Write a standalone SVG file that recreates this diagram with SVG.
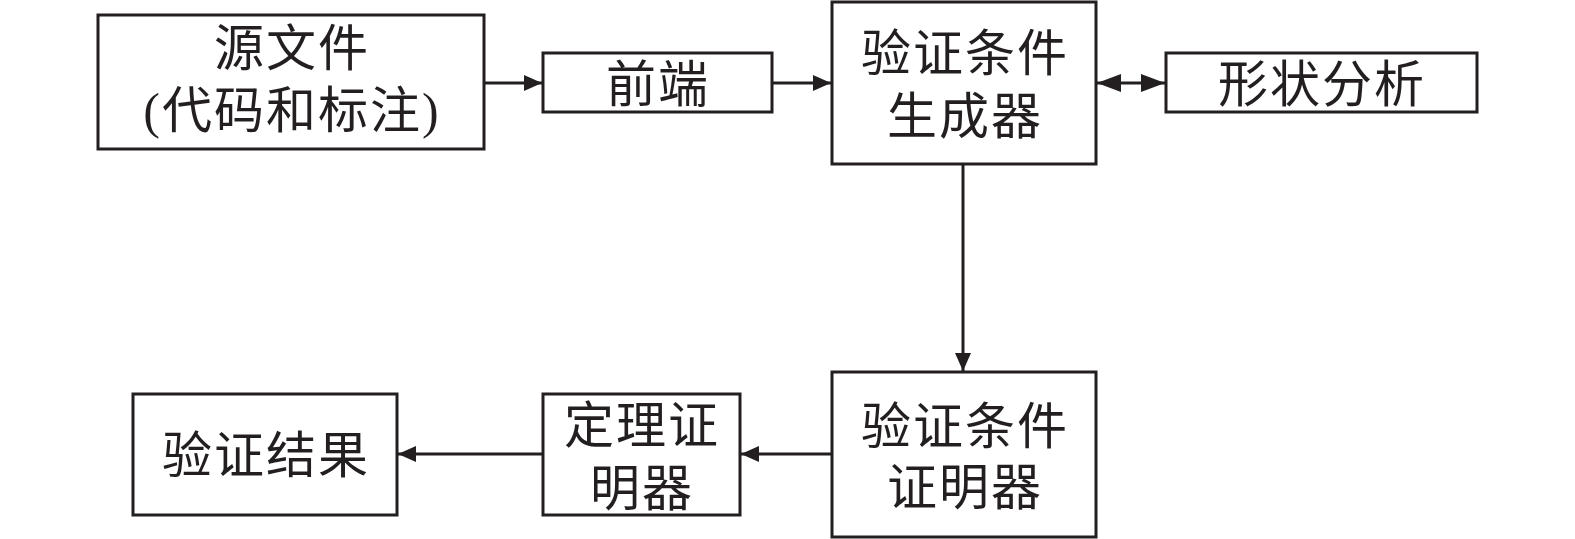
<svg xmlns="http://www.w3.org/2000/svg" width="1575" height="539" viewBox="0 0 1575 539">
<style>
.box{fill:#fff;stroke:#231f20;stroke-width:3}
.t{font-family:"Liberation Serif","Noto Sans CJK SC",serif;font-size:50px;fill:#231f20;text-anchor:middle;letter-spacing:2px}
.c{fill:none;stroke:#231f20;stroke-width:3}
</style>
<defs>
<marker id="a" markerUnits="userSpaceOnUse" markerWidth="18" markerHeight="16" refX="18" refY="8" orient="auto"><path d="M0,0 L18,8 L0,16 z" fill="#231f20"/></marker>
<marker id="b" markerUnits="userSpaceOnUse" markerWidth="24" markerHeight="18" refX="24" refY="9" orient="auto-start-reverse"><path d="M0,0 L24,9 L0,18 z" fill="#231f20"/></marker>
</defs>
<g id="connectors">
<line class="c" x1="485" y1="83" x2="542" y2="83" marker-end="url(#a)"/>
<line class="c" x1="772" y1="83" x2="831" y2="83" marker-end="url(#a)"/>
<line class="c" x1="1097" y1="83" x2="1165" y2="83" marker-start="url(#b)" marker-end="url(#b)"/>
<line class="c" x1="963" y1="164" x2="963" y2="371" marker-end="url(#a)"/>
<line class="c" x1="832" y1="454" x2="741" y2="454" marker-end="url(#a)"/>
<line class="c" x1="543" y1="454" x2="398" y2="454" marker-end="url(#a)"/>
</g>
<g id="source">
<rect class="box" x="98" y="15" width="386" height="134"/>
<text class="t" x="292" y="65.5">源文件</text>
<text class="t" x="292" y="128">(代码和标注)</text>
</g>
<g id="frontend">
<rect class="box" x="543" y="53" width="229" height="59"/>
<text class="t" x="658" y="102">前端</text>
</g>
<g id="vcgen">
<rect class="box" x="832" y="2" width="264" height="162"/>
<text class="t" x="965" y="71">验证条件</text>
<text class="t" x="965" y="134">生成器</text>
</g>
<g id="shape">
<rect class="box" x="1166" y="53" width="311" height="59"/>
<text class="t" x="1322" y="102">形状分析</text>
</g>
<g id="vcprover">
<rect class="box" x="832" y="372" width="264" height="165"/>
<text class="t" x="965" y="444">验证条件</text>
<text class="t" x="965" y="505">证明器</text>
</g>
<g id="theorem">
<rect class="box" x="543" y="394" width="197" height="121"/>
<text class="t" x="642" y="442.5">定理证</text>
<text class="t" x="642" y="506">明器</text>
</g>
<g id="result">
<rect class="box" x="133" y="394" width="264" height="121"/>
<text class="t" x="266" y="473">验证结果</text>
</g>
</svg>
